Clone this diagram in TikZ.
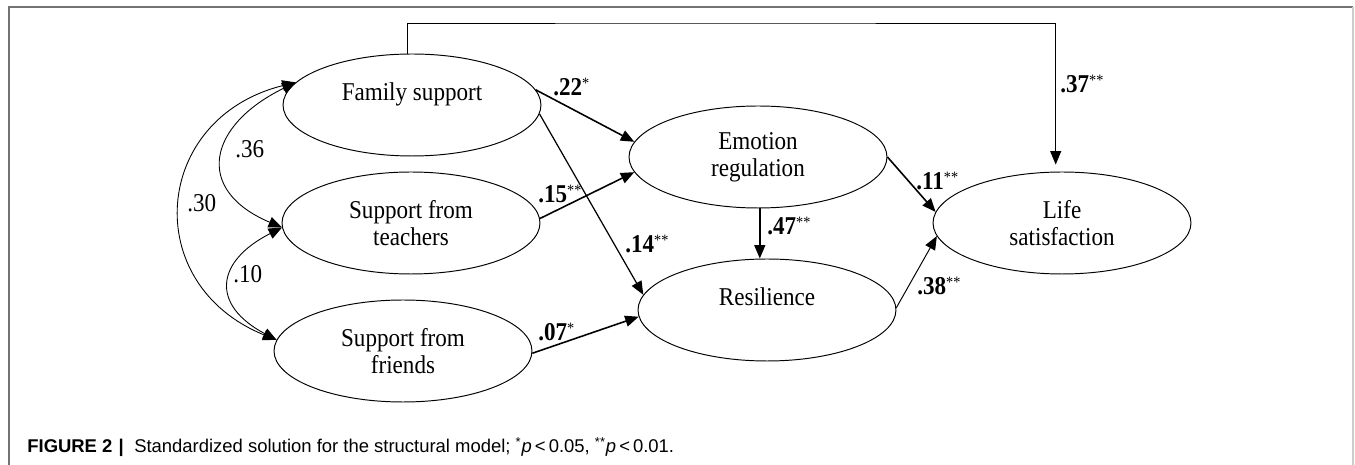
\documentclass[tikz,border=0pt]{standalone}
\usepackage{fontspec}
\setmainfont{Liberation Serif}[FakeStretch=0.9]
\newfontfamily\capfont{Liberation Sans}
\usetikzlibrary{shapes.geometric,arrows.meta}

\newcommand{\coef}[2]{\textbf{#1}\raisebox{0.3em}{\fontsize{9}{9}\selectfont #2}}

\begin{document}
\begin{tikzpicture}[x=0.02cm,y=0.02cm,
    latent/.style={ellipse,draw,line width=0.55pt,minimum width=5.16cm,minimum height=2.04cm,
        inner sep=0pt,align=center,font=\fontsize{14.6}{15.5}\selectfont},
    tip/.tip={Triangle[length=0.27cm,width=0.22cm]},
    path/.style={-tip,line width=0.9pt},
    thinpath/.style={-tip,line width=0.55pt},
    cov/.style={tip-tip,line width=0.5pt},
    coeflabel/.style={anchor=base west,inner sep=0pt,font=\fontsize{14.6}{15.5}\selectfont}]
    \useasboundingbox (0,0) rectangle (1355,-465);

    % frame
    \draw[black!55,line width=0.6pt] (9,-465) -- (9,-7) -- (1353,-7);
    \draw[black!20,line width=0.6pt] (1353,-7) -- (1353,-465);

    % latent variables
    \node[latent] (fam) at (412,-105) {Family support\\~};
    \node[latent] (tea) at (411,-223) {Support from\\teachers};
    \node[latent] (fri) at (403,-351) {Support from\\friends};
    \node[latent] (emo) at (758,-157) {Emotion\\regulation};
    \node[latent] (res) at (767,-310) {Resilience\\~};
    \node[latent] (lif) at (1062,-223) {Life\\satisfaction};
    \coordinate (top) at (700,-23);

    % paths
    \draw[path] (fam.7) -- (emo.173);
    \draw[-tip,line width=0.7pt] (fam.-4) -- (res.173);
    \draw[path] (tea.2) -- (emo.187);
    \draw[path] (fri.-1) -- (res.183);
    \draw[path] (emo.-88) -- (emo.-88 |- res.north);
    \draw[path] (emo.east) -- (lif.175);
    \draw[thinpath] (res.1) -- (lif.186);
    \draw[thinpath,shorten >=0.14cm] (fam.95) |- (top) -| (lif.97);

    % covariances
    \draw[cov] (tea.182) to[out=157,in=206,looseness=1.7] (fam.169);
    \draw[cov] (fri.175) to[out=158,in=194,looseness=1.47] (fam.169);
    \draw[cov] (tea.182) to[out=207,in=152,looseness=1.7] (fri.175);

    % coefficients
    \node[coeflabel] (c22) at (553,-96) {\coef{.22}{*}};
    \node[coeflabel] (c15) at (538,-203) {\coef{.15}{**}};
    \node[coeflabel] (c14) at (625,-253) {\coef{.14}{**}};
    \node[coeflabel] (c07) at (538,-341) {\coef{.07}{*}};
    \node[coeflabel] (c47) at (767,-235) {\coef{.47}{**}};
    \node[coeflabel] (c11) at (916,-190) {\coef{.11}{**}};
    \node[coeflabel] (c38) at (917,-295) {\coef{.38}{**}};
    \node[coeflabel] (c37) at (1060,-93) {\coef{.37}{**}};
    \node[coeflabel] (c36) at (235,-158) {.36};
    \node[coeflabel] (c30) at (187,-212) {.30};
    \node[coeflabel] (c10) at (233,-283) {.10};

    % caption
    \node[anchor=base west,inner sep=0pt,font=\capfont\fontsize{10.5}{13}\selectfont] (cap) at (27,-453)
        {\textbf{FIGURE 2}\hspace{3.5pt}\textbf{|}\hspace{6pt}Standardized solution for the structural model; \textsuperscript{*}\textit{p}\,<\,0.05, \textsuperscript{**}\textit{p}\,<\,0.01.};
\end{tikzpicture}
\end{document}
